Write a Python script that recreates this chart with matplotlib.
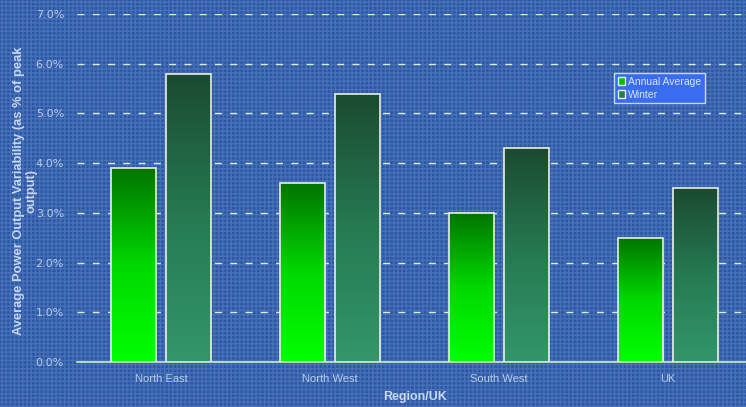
import matplotlib
matplotlib.use("Agg")
import matplotlib.pyplot as plt
import numpy as np
from matplotlib.colors import LinearSegmentedColormap
from matplotlib.patches import Rectangle, Patch
from matplotlib.ticker import FuncFormatter, MultipleLocator

categories = ["North East", "North West", "South West", "UK"]
annual = [3.9, 3.6, 3.0, 2.5]
winter = [5.8, 5.4, 4.3, 3.5]
series_names = ["Annual Average", "Winter"]

plt.rcParams['font.family'] = ['Liberation Sans', 'DejaVu Sans']

bg = "#2b57a6"
fig = plt.figure(figsize=(7.46, 4.07), dpi=100, facecolor=bg)
tex = Rectangle((0, 0), 1, 1, transform=fig.transFigure, facecolor=bg,
                edgecolor=(0.75, 0.85, 1.0, 0.2), hatch="++++", linewidth=0, zorder=-10)
fig.patches.append(tex)

ax_w = 676
ax = fig.add_axes([76.5/746, 1 - 362/407, ax_w/746, (362-14)/407])
ax.set_facecolor("none")

x = np.arange(len(categories))
w = 0.267
off = 0.162

cmap_a = LinearSegmentedColormap.from_list("a", ["#00ff00", "#00d800", "#007400"])
cmap_w = LinearSegmentedColormap.from_list("w", ["#33966a", "#267a52", "#1b4a31"])
grad = np.linspace(0, 1, 256).reshape(-1, 1)

def gbar(xc, h, cmap):
    rect = Rectangle((xc - w/2, 0), w, h, facecolor="none", edgecolor="#e8f0e8",
                     linewidth=1.2, zorder=4)
    ax.add_patch(rect)
    im = ax.imshow(grad, extent=(xc - w/2, xc + w/2, 0, h), origin="lower",
                   cmap=cmap, aspect="auto", zorder=3, interpolation="bilinear")
    im.set_clip_path(rect)

for i in range(len(categories)):
    gbar(x[i] - off, annual[i], cmap_a)
    gbar(x[i] + off, winter[i], cmap_w)
ax.set_aspect("auto")
ax.set_xlim(-0.5, len(categories) - 0.5)
ax.set_ylim(0, 7.0)

ax.yaxis.set_major_locator(MultipleLocator(1.0))
ax.yaxis.set_major_formatter(FuncFormatter(lambda v, p: f"{v:.1f}%"))
ax.grid(axis="y", color="#d8f0e0", linestyle=(0, (5, 6)), linewidth=1.0, zorder=1)
ax.set_axisbelow(True)

for s in ["top", "right", "left"]:
    ax.spines[s].set_visible(False)
ax.spines["bottom"].set_color("#c8f0c0")
ax.spines["bottom"].set_linewidth(1.2)

ax.set_xticks(x)
ax.set_xticklabels(categories)
ax.tick_params(axis="x", length=0, pad=9, colors="#b8cce8", labelsize=8)
ax.tick_params(axis="y", length=0, pad=9, labelsize=8, labelcolor="#b8cce8")
for lab in ax.get_yticklabels():
    lab.set_fontfamily("DejaVu Sans")

ax.set_xlabel("Region/UK", color="#c8d8f0", fontsize=9, fontweight="bold", labelpad=5)
fig.text(25/746, 1 - 191/407, "Average Power Output Variability (as % of peak\noutput)",
         color="#c8d8f0", fontsize=9.3, fontweight="bold", rotation=90,
         ha="center", va="center", multialignment="center", linespacing=1.0)

handles = [Patch(facecolor="#00c000", edgecolor="#e8f0e8"),
           Patch(facecolor="#2a7a50", edgecolor="#e8f0e8")]
leg = ax.legend(handles, series_names, loc="upper left",
                bbox_to_anchor=((614-76.5)/ax_w, (362-73)/348), fontsize=7.5,
                frameon=True, fancybox=False, handlelength=0.7, handleheight=0.7,
                handletextpad=0.3, borderpad=0.35, labelspacing=0.3, borderaxespad=0)
leg.get_frame().set_facecolor("#3a6cf0")
leg.get_frame().set_edgecolor("#c8d8f0")
leg.get_frame().set_alpha(1)
for t in leg.get_texts():
    t.set_color("#d8e4f8")

fig.savefig("out.png", dpi=100, facecolor=bg)
